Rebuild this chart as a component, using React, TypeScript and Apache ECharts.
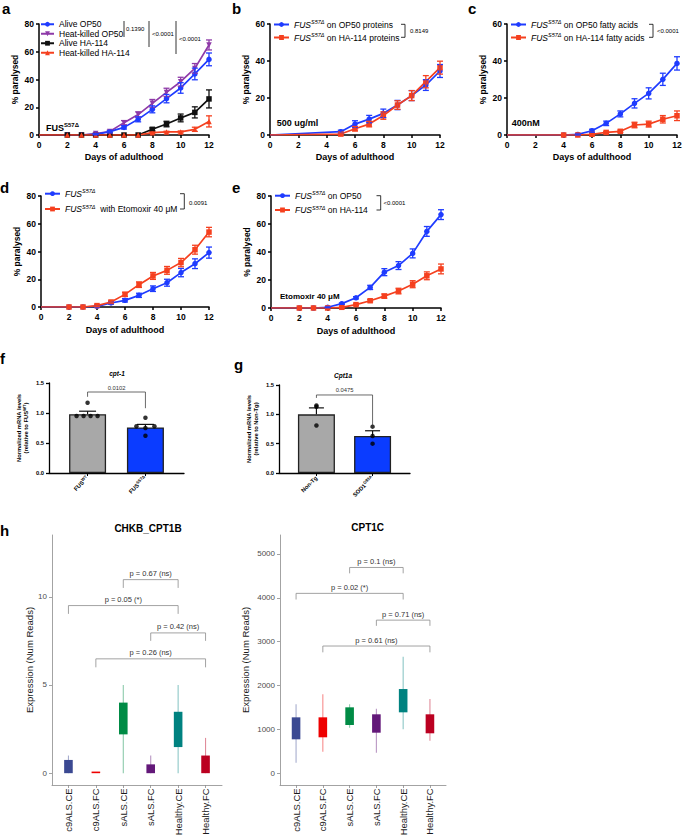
import React, { useEffect, useRef } from "react";
import * as echarts from "echarts";

const FONT = '"Liberation Sans", Arial, Helvetica, sans-serif';
const BLUE = "#1f3cff";
const RED = "#f5401f";
const PURPLE = "#8e3aa8";
const BLACK = "#111111";

// ---------- panel a ----------
const aDays = [0, 2, 3, 4, 5, 6, 7, 8, 9, 10, 11, 12];
const aAliveOP50 = [0, 0, 0, 0.5, 2.4, 5.5, 11.3, 18.5, 26.2, 33.9, 44, 54.5];
const aAliveOP50Err = [0, 0, 0, 0.4, 0.8, 1.2, 1.8, 2.5, 3, 3.8, 4.2, 4.6];
const aHeatOP50 = [0, 0, 0, 1, 2.5, 8.9, 14.7, 22.8, 30.7, 38.4, 48, 64.9];
const aHeatOP50Err = [0, 0, 0, 0.5, 1, 1.5, 2, 2.8, 3, 3.2, 3.5, 3.6];
const aAliveHA = [0, 0, 0, 0, 0, 0, 0, 4.1, 7.9, 12.3, 16.3, 26];
const aAliveHAErr = [0, 0, 0, 0, 0, 0, 0, 1, 2, 2.8, 4, 6.5];
const aHeatHA = [0, 0, 0, 0, 0, 0, 0, 1.7, 2.2, 2.2, 4.1, 9.8];
const aHeatHAErr = [0, 0, 0, 0, 0, 0, 0, 0.5, 0.5, 0.7, 1.5, 4];

// ---------- panel b ----------
const bDays = [0, 5, 6, 7, 8, 9, 10, 11, 12];
const bOP50 = [0, 1.8, 5.9, 8.6, 11.7, 16.2, 21.3, 27, 34.6];
const bOP50Err = [0, 0.8, 1.8, 2, 2.3, 2.5, 2.7, 2.9, 3.5];
const bHA = [0, 0.5, 3.4, 5.9, 10.5, 16.2, 21.3, 28.8, 36.4];
const bHAErr = [0, 0.5, 1.2, 1.5, 2, 2.3, 2.7, 3.3, 3.5];

// ---------- panel c ----------
const cDays = [0, 4, 5, 6, 7, 8, 9, 10, 11, 12];
const cOP50 = [0, 0, 0.3, 2.3, 6.3, 11.4, 17.1, 22.5, 30.1, 38.7];
const cOP50Err = [0, 0, 0.3, 0.8, 1.2, 1.6, 2.5, 3, 3.3, 3.6];
const cHA = [0, 0, 0, 0.4, 1.4, 2, 5.4, 5.9, 8.5, 10.4];
const cHAErr = [0, 0, 0, 0.3, 0.5, 0.6, 1.5, 1.6, 2, 2.6];

// ---------- panel d ----------
const dDays = [0, 2, 3, 4, 5, 6, 7, 8, 9, 10, 11, 12];
const dCtrl = [0, 0, 0, 0.5, 2.9, 4.8, 8.4, 13.2, 17.5, 24.8, 31.2, 39.2];
const dCtrlErr = [0, 0, 0, 0.5, 0.8, 1.2, 1.5, 2, 2.5, 3, 3.5, 4];
const dEto = [0, 0, 0, 1, 3.6, 9.1, 16.1, 22.4, 26.4, 32, 41.3, 54];
const dEtoErr = [0, 0, 0, 0.5, 0.8, 1.5, 2, 2.5, 2.8, 3, 3.2, 3.4];

// ---------- panel e ----------
const eDays = [0, 2, 3, 4, 5, 6, 7, 8, 9, 10, 11, 12];
const eOP50 = [0, 0, 0, 0.5, 3.1, 7.3, 14.7, 25.6, 30.3, 39, 54.7, 66.7];
const eOP50Err = [0, 0, 0, 0.3, 0.5, 0.8, 1.5, 2.5, 2.8, 3.2, 3.5, 3.5];
const eHA = [0, 0, 0, 0, 0.5, 2.4, 5.2, 8.5, 12.1, 17, 23, 27.9];
const eHAErr = [0, 0, 0, 0, 0.3, 0.5, 0.8, 1.5, 2, 2.5, 2.8, 3.5];

// ---------- panels f, g ----------
const fLabels = ["{b|FUS}{s|WT}", "{b|FUS}{s|S57Δ}"];
const fMeans = [0.98, 0.76];
const fSem = [0.05, 0.05];
const fPoints = [
  [1.17, 0.95, 0.95, 0.95, 0.95],
  [0.92, 0.78, 0.78, 0.75, 0.62],
];
const fP = ["0.0102"];

const gLabels = ["{b|Non-Tg}", "{b|SOD1}{s|G93A}"];
const gMeans = [1.0, 0.63];
const gSem = [0.11, 0.09];
const gPoints = [
  [1.15, 1.13, 0.81],
  [0.79, 0.63, 0.5],
];
const gP = ["0.0475"];

// ---------- panel h ----------
const hCats = ["c9ALS.CE", "c9ALS.FC", "sALS.CE", "sALS.FC", "Healthy.CE", "Healthy.FC"];
const hColors = ["#3B4992", "#EE0000", "#008B45", "#631879", "#008280", "#BB0021"];
// [whisker low, q1, q3, whisker high]
const chkbStats = [
  [0, 0, 0.75, 1.0],
  [0, 0, 0, 0],
  [0, 2.2, 4.0, 5.0],
  [0, 0, 0.5, 1.0],
  [0, 1.48, 3.48, 5.0],
  [0, 0, 1.0, 2.0],
];
const cpt1cStats = [
  [242, 774, 1275, 1571],
  [492, 820, 1275, 1800],
  [1039, 1100, 1503, 1571],
  [469, 925, 1344, 1472],
  [1002, 1389, 1920, 2656],
  [743, 911, 1344, 1692],
];
const chkbTicks = [0, 5, 10];
const cpt1cTicks = [0, 1000, 2000, 3000, 4000, 5000];
// [group from, group to, bracket level, left end, right end]
const chkbBrackets = [
  [3, 5, 10.97, 10.5, 10.5],
  [1, 5, 9.5, 9.03, 9.03],
  [4, 6, 7.95, 7.5, 7.5],
  [2, 6, 6.48, 6.0, 6.0],
];
const chkbP = ["p = 0.67 (ns)", "p = 0.05 (*)", "p = 0.42 (ns)", "p = 0.26 (ns)"];
const cpt1cBrackets = [
  [3, 5, 4690, 4556, 4556],
  [1, 5, 4100, 3960, 3960],
  [4, 6, 3490, 3360, 3360],
  [2, 6, 2900, 2756, 2756],
];
const cpt1cP = ["p = 0.1 (ns)", "p = 0.02 (*)", "p = 0.71 (ns)", "p = 0.61 (ns)"];

// ---------- layout (pixels) ----------
const grids = [
  { left: 39, top: 24, width: 170, height: 111 },
  { left: 270, top: 24, width: 170, height: 111 },
  { left: 507, top: 24, width: 170, height: 111 },
  { left: 41, top: 196, width: 168, height: 111 },
  { left: 271, top: 196, width: 170, height: 112 },
  { left: 49, top: 383, width: 135, height: 90 },
  { left: 279, top: 385, width: 131, height: 88 },
  { left: 52, top: 535, width: 170, height: 250 },
  { left: 280, top: 535, width: 166, height: 250 },
];
const barSlots = [2, 5];

type LineSpec = {
  name: string;
  grid: number;
  days: number[];
  values: number[];
  errors: number[];
  color: string;
  symbol: string;
  rotate?: number;
};

const lineSpecs: LineSpec[] = [
  { name: "Heat-killed OP50", grid: 0, days: aDays, values: aHeatOP50, errors: aHeatOP50Err, color: PURPLE, symbol: "triangle", rotate: 180 },
  { name: "Alive OP50", grid: 0, days: aDays, values: aAliveOP50, errors: aAliveOP50Err, color: BLUE, symbol: "circle" },
  { name: "Alive HA-114", grid: 0, days: aDays, values: aAliveHA, errors: aAliveHAErr, color: BLACK, symbol: "rect" },
  { name: "Heat-killed HA-114", grid: 0, days: aDays, values: aHeatHA, errors: aHeatHAErr, color: RED, symbol: "triangle" },
  { name: "b-OP50", grid: 1, days: bDays, values: bOP50, errors: bOP50Err, color: BLUE, symbol: "circle" },
  { name: "b-HA", grid: 1, days: bDays, values: bHA, errors: bHAErr, color: RED, symbol: "rect" },
  { name: "c-OP50", grid: 2, days: cDays, values: cOP50, errors: cOP50Err, color: BLUE, symbol: "circle" },
  { name: "c-HA", grid: 2, days: cDays, values: cHA, errors: cHAErr, color: RED, symbol: "rect" },
  { name: "d-ctrl", grid: 3, days: dDays, values: dCtrl, errors: dCtrlErr, color: BLUE, symbol: "circle" },
  { name: "d-eto", grid: 3, days: dDays, values: dEto, errors: dEtoErr, color: RED, symbol: "rect" },
  { name: "e-OP50", grid: 4, days: eDays, values: eOP50, errors: eOP50Err, color: BLUE, symbol: "circle" },
  { name: "e-HA", grid: 4, days: eDays, values: eHA, errors: eHAErr, color: RED, symbol: "rect" },
];

const legendText: Record<string, string> = {
  "b-OP50": "{i|FUS}{si|S57Δ} on OP50 proteins",
  "b-HA": "{i|FUS}{si|S57Δ} on HA-114 proteins",
  "c-OP50": "{i|FUS}{si|S57Δ} on OP50 fatty acids",
  "c-HA": "{i|FUS}{si|S57Δ} on HA-114 fatty acids",
  "d-ctrl": "{i|FUS}{si|S57Δ}",
  "d-eto": "{i|FUS}{si|S57Δ}  with Etomoxir 40 μM",
  "e-OP50": "{i|FUS}{si|S57Δ} on OP50",
  "e-HA": "{i|FUS}{si|S57Δ} on HA-114",
};

const legendRich = {
  i: { fontStyle: "italic", fontSize: 8.5, fontFamily: FONT, color: "#000", lineHeight: 11 },
  si: { fontStyle: "italic", fontSize: 5.5, fontFamily: FONT, color: "#000", lineHeight: 7, verticalAlign: "top" },
};

function txt(x: number, y: number, text: string, font: string, align = "left", vAlign = "middle", fill = "#000", rich?: any) {
  return {
    type: "text",
    x,
    y,
    silent: true,
    style: { text, font, fill, textFill: fill, textAlign: align, textVerticalAlign: vAlign, align, verticalAlign: vAlign, rich },
  };
}

function seg(x1: number, y1: number, x2: number, y2: number, w = 0.8, stroke = "#000") {
  return { type: "line", silent: true, shape: { x1, y1, x2, y2 }, style: { stroke, lineWidth: w } };
}

function bracketPx(points: number[][]) {
  return { type: "polyline", silent: true, shape: { points }, style: { stroke: "#000", lineWidth: 0.8, fill: "none" } };
}

function errorBarSeries(g: number, data: number[][], color: string, cap: number, upOnly = false, width = 1.3) {
  return {
    type: "custom",
    xAxisIndex: g,
    yAxisIndex: g,
    silent: true,
    z: 4,
    data,
    renderItem: (_p: any, api: any) => {
      const x = api.value(0);
      const y = api.value(1);
      const e = api.value(2);
      if (!e) return null;
      const t = api.coord([x, y + e]);
      const b = api.coord([x, upOnly ? y : Math.max(0, y - e)]);
      const st = { stroke: color, lineWidth: width };
      const ch: any[] = [
        { type: "line", shape: { x1: t[0], y1: t[1], x2: b[0], y2: b[1] }, style: st },
        { type: "line", shape: { x1: t[0] - cap, y1: t[1], x2: t[0] + cap, y2: t[1] }, style: st },
      ];
      if (!upOnly) ch.push({ type: "line", shape: { x1: b[0] - cap, y1: b[1], x2: b[0] + cap, y2: b[1] }, style: st });
      return { type: "group", children: ch };
    },
  };
}

function bracketSeries(g: number, data: number[][], labels: string[], stroke: string, lw: number, font: string, fill: string, gap: number) {
  return {
    type: "custom",
    xAxisIndex: g,
    yAxisIndex: g,
    silent: true,
    z: 5,
    data,
    renderItem: (params: any, api: any) => {
      const x1 = api.value(0);
      const x2 = api.value(1);
      const yt = api.value(2);
      const a = api.coord([x1, api.value(3)]);
      const b = api.coord([x1, yt]);
      const c = api.coord([x2, yt]);
      const d = api.coord([x2, api.value(4)]);
      return {
        type: "group",
        children: [
          { type: "polyline", shape: { points: [a, b, c, d] }, style: { stroke, lineWidth: lw, fill: "none" } },
          {
            type: "text",
            x: (b[0] + c[0]) / 2,
            y: b[1] - gap,
            style: {
              text: labels[params.dataIndex],
              font,
              fill,
              textFill: fill,
              textAlign: "center",
              textVerticalAlign: "bottom",
              align: "center",
              verticalAlign: "bottom",
            },
          },
        ],
      };
    },
  };
}

function boxSeries(g: number, stats: number[][]) {
  return {
    type: "custom",
    xAxisIndex: g,
    yAxisIndex: g,
    silent: true,
    data: stats.map((s, i) => [i + 1, ...s]),
    renderItem: (params: any, api: any) => {
      const i = params.dataIndex;
      const x = api.value(0);
      const lo = api.coord([x, api.value(1)]);
      const q1 = api.coord([x, api.value(2)]);
      const q3 = api.coord([x, api.value(3)]);
      const hi = api.coord([x, api.value(4)]);
      const col = hColors[i];
      const h = Math.max(q1[1] - q3[1], 1.6);
      return {
        type: "group",
        children: [
          { type: "line", shape: { x1: hi[0], y1: hi[1], x2: lo[0], y2: lo[1] }, style: { stroke: col, lineWidth: 1.1, opacity: 0.45 } },
          { type: "rect", shape: { x: q3[0] - 4.3, y: q1[1] - h, width: 8.6, height: h }, style: { fill: col } },
        ],
      };
    },
  };
}

function buildOption() {
  const xAxis: any[] = [];
  const yAxis: any[] = [];
  const series: any[] = [];
  const legend: any[] = [];

  const blackLine = { show: true, onZero: false, lineStyle: { color: "#000", width: 1.5 } };
  const blackTick = { show: true, length: 3, lineStyle: { color: "#000", width: 1.5 } };
  const boldLabel = { color: "#000", fontSize: 8.5, fontWeight: "bold", fontFamily: FONT };
  const lineYMax = [80, 60, 60, 80, 80];
  const xNameGap = [17, 17, 17, 18, 18];

  for (let g = 0; g < 5; g++) {
    xAxis.push({
      type: "value",
      gridIndex: g,
      min: 0,
      max: 12,
      interval: 2,
      axisLine: blackLine,
      axisTick: blackTick,
      axisLabel: { ...boldLabel, margin: 5 },
      splitLine: { show: false },
      name: "Days of adulthood",
      nameLocation: "middle",
      nameGap: xNameGap[g],
      nameTextStyle: { color: "#000", fontSize: 9, fontWeight: "bold", fontFamily: FONT },
    });
    yAxis.push({
      type: "value",
      gridIndex: g,
      min: 0,
      max: lineYMax[g],
      interval: 20,
      axisLine: blackLine,
      axisTick: blackTick,
      axisLabel: { ...boldLabel, margin: 5 },
      splitLine: { show: false },
      name: "% paralysed",
      nameLocation: "middle",
      nameGap: 20,
      nameTextStyle: { color: "#000", fontSize: 8.5, fontWeight: "bold", fontFamily: FONT },
    });
  }

  for (const s of lineSpecs) {
    series.push({
      type: "line",
      name: s.name,
      xAxisIndex: s.grid,
      yAxisIndex: s.grid,
      symbol: s.symbol,
      symbolRotate: s.rotate || 0,
      symbolSize: 5.5,
      showAllSymbol: true,
      silent: true,
      z: 3,
      lineStyle: { color: s.color, width: 1.7 },
      itemStyle: { color: s.color },
      data: s.days.map((d, i) => ({ value: [d, s.values[i]], symbolSize: d === 0 ? 0 : 5.5 })),
    });
    series.push(errorBarSeries(s.grid, s.days.map((d, i) => [d, s.values[i], s.errors[i]]), s.color, 3));
  }

  const legendPos = [
    { left: 40, top: 19.5, itemWidth: 13, gap: 0, lh: 9.5, names: ["Alive OP50", "Heat-killed OP50", "Alive HA-114", "Heat-killed HA-114"] },
    { left: 273, top: 19, itemWidth: 15, gap: 2, lh: 11, names: ["b-OP50", "b-HA"] },
    { left: 510, top: 19, itemWidth: 15, gap: 2, lh: 11, names: ["c-OP50", "c-HA"] },
    { left: 44, top: 188.2, itemWidth: 15, gap: 4.3, lh: 11, names: ["d-ctrl", "d-eto"] },
    { left: 274, top: 190.2, itemWidth: 15, gap: 3.3, lh: 11, names: ["e-OP50", "e-HA"] },
  ];
  for (const l of legendPos) {
    legend.push({
      left: l.left,
      top: l.top,
      orient: "vertical",
      padding: 0,
      itemGap: l.gap,
      itemWidth: l.itemWidth,
      itemHeight: 6,
      selectedMode: false,
      data: l.names,
      formatter: (n: string) => legendText[n] || n,
      textStyle: { fontSize: 8.5, color: "#000", fontFamily: FONT, lineHeight: l.lh, rich: legendRich },
    });
  }

  // ----- f and g -----
  const smallRich = {
    b: { fontSize: 5.8, fontWeight: "bold", fontFamily: FONT, color: "#000", lineHeight: 7.5 },
    s: { fontSize: 4.2, fontWeight: "bold", fontFamily: FONT, color: "#000", lineHeight: 5, verticalAlign: "top" },
  };
  const barPanels = [
    { g: 5, labels: fLabels, means: fMeans, sem: fSem, points: fPoints, jitter: [[0, -11, -4, 3, 10], [0, -9, 9, 0, 0]], cap: 8.5, bracket: [[2, 5, 1.35, 1.27, 1.08]], p: fP, yName: "{b|Normalized mRNA levels}\n{b|(relative to FUS}{s|WT}{b|)}", gap: 19 },
    { g: 6, labels: gLabels, means: gMeans, sem: gSem, points: gPoints, jitter: [[0, 0, 0], [0, 0, 0]], cap: 7.5, bracket: [[2, 5, 1.33, 1.28, 0.82]], p: gP, yName: "{b|Normalized mRNA levels}\n{b|(relative to Non-Tg)}", gap: 19 },
  ];
  const barColors = ["#a8a8a8", "#0b3cff"];
  for (const bp of barPanels) {
    xAxis.push({
      type: "value",
      gridIndex: bp.g,
      min: 0,
      max: 7,
      axisLine: { show: true, onZero: false, lineStyle: { color: "#000", width: 1.3 } },
      axisTick: { show: true, length: 3, customValues: barSlots, lineStyle: { color: "#000", width: 1 } },
      axisLabel: {
        customValues: barSlots,
        rotate: 45,
        margin: 4,
        formatter: (v: number) => bp.labels[barSlots.indexOf(Math.round(v))] || "",
        rich: smallRich,
      },
      splitLine: { show: false },
    });
    yAxis.push({
      type: "value",
      gridIndex: bp.g,
      min: 0,
      max: 1.5,
      interval: 0.5,
      axisLine: { show: true, onZero: false, lineStyle: { color: "#000", width: 1.3 } },
      axisTick: { show: true, length: 3, lineStyle: { color: "#000", width: 1.3 } },
      axisLabel: { color: "#000", fontSize: 5.8, fontWeight: "bold", fontFamily: FONT, margin: 5, formatter: (v: number) => v.toFixed(1) },
      splitLine: { show: false },
      name: bp.yName,
      nameLocation: "middle",
      nameGap: bp.gap,
      nameTextStyle: { rich: smallRich },
    });
    series.push({
      type: "bar",
      xAxisIndex: bp.g,
      yAxisIndex: bp.g,
      barWidth: 37,
      silent: true,
      data: barSlots.map((s, i) => ({ value: [s, bp.means[i]], itemStyle: { color: barColors[i], borderColor: "#222", borderWidth: 1.3 } })),
    });
    series.push(errorBarSeries(bp.g, barSlots.map((s, i) => [s, bp.means[i], bp.sem[i]]), "#111", bp.cap, true, 1.2));
    const pts: any[] = [];
    bp.points.forEach((arr, i) => arr.forEach((v, j) => pts.push({ value: [barSlots[i], v], symbolOffset: [bp.jitter[i][j], 0] })));
    series.push({ type: "scatter", xAxisIndex: bp.g, yAxisIndex: bp.g, symbolSize: 4.5, silent: true, z: 6, itemStyle: { color: "#000" }, data: pts });
    series.push(bracketSeries(bp.g, bp.bracket, bp.p, "#444", 0.8, `5.8px ${FONT}`, "#333", 1.5));
  }

  // ----- h -----
  const grayLine = { show: true, onZero: false, lineStyle: { color: "#8c8c8c", width: 0.8 } };
  const hPanels = [
    { g: 7, min: -0.67, max: 13.5, ticks: chkbTicks, stats: chkbStats, br: chkbBrackets, p: chkbP, gap: 17 },
    { g: 8, min: -267, max: 5430, ticks: cpt1cTicks, stats: cpt1cStats, br: cpt1cBrackets, p: cpt1cP, gap: 30 },
  ];
  const catPos = hCats.map((_, i) => i + 1);
  for (const hp of hPanels) {
    xAxis.push({
      type: "value",
      gridIndex: hp.g,
      min: 0.4,
      max: 6.6,
      axisLine: grayLine,
      axisTick: { show: true, length: 3, customValues: catPos, lineStyle: { color: "#8c8c8c", width: 0.8 } },
      axisLabel: {
        customValues: catPos,
        rotate: 90,
        margin: 3.5,
        color: "#1a1a1a",
        fontSize: 9.4,
        fontFamily: FONT,
        formatter: (v: number) => hCats[Math.round(v) - 1] || "",
      },
      splitLine: { show: false },
    });
    yAxis.push({
      type: "value",
      gridIndex: hp.g,
      min: hp.min,
      max: hp.max,
      axisLine: grayLine,
      axisTick: { show: true, length: 3, customValues: hp.ticks, lineStyle: { color: "#8c8c8c", width: 0.8 } },
      axisLabel: { customValues: hp.ticks, margin: 5, color: "#4d4d4d", fontSize: 8, fontFamily: FONT, formatter: (v: number) => String(Math.round(v)) },
      splitLine: { show: false },
      name: "Expression (Num Reads)",
      nameLocation: "middle",
      nameGap: hp.gap,
      nameTextStyle: { color: "#1a1a1a", fontSize: 9.5, fontFamily: FONT },
    });
    series.push(boxSeries(hp.g, hp.stats));
    series.push(bracketSeries(hp.g, hp.br, hp.p, "#8c8c8c", 0.8, `7.5px ${FONT}`, "#333333", 2));
  }

  const supRich = {
    b: { fontSize: 9, fontWeight: "bold", fontFamily: FONT, fill: "#000", color: "#000", lineHeight: 11 },
    s: { fontSize: 6, fontWeight: "bold", fontFamily: FONT, fill: "#000", color: "#000", lineHeight: 7, verticalAlign: "top" },
  };
  const L = `bold 15px ${FONT}`;
  const P = `6px ${FONT}`;
  const graphic: any[] = [
    txt(2, 8.5, "a", L),
    txt(232, 8.5, "b", L),
    txt(468, 8.5, "c", L),
    txt(0, 187, "d", L),
    txt(232, 187, "e", L),
    txt(0, 358, "f", L),
    txt(234, 364, "g", L),
    txt(0, 530, "h", L),
    // panel a significance
    seg(124, 21, 124, 37),
    txt(126, 29, "0.1390", P),
    seg(149, 21, 149, 47),
    txt(152, 34, "<0.0001", P),
    seg(176, 21, 176, 54),
    txt(179, 39.3, "<0.0001", P),
    // panel b-e brackets
    bracketPx([[401, 24.3], [405, 24.3], [405, 37.3], [401, 37.3]]),
    txt(410, 31, "0.8149", P),
    bracketPx([[649, 24.3], [653, 24.3], [653, 37.3], [649, 37.3]]),
    txt(657, 30.7, "<0.0001", P),
    bracketPx([[180, 193.7], [184.3, 193.7], [184.3, 209], [180, 209]]),
    txt(189, 202.7, "0.0091", P),
    bracketPx([[376.5, 195.7], [380.7, 195.7], [380.7, 210], [376.5, 210]]),
    txt(383.5, 202.7, "<0.0001", P),
    // in-plot labels
    txt(46, 127.5, "{b|FUS}{s|S57Δ}", `bold 9px ${FONT}`, "left", "middle", "#000", supRich),
    txt(276.7, 123.3, "500 ug/ml", `bold 9px ${FONT}`),
    txt(511.7, 123.3, "400nM", `bold 9px ${FONT}`),
    txt(280, 296, "Etomoxir 40 μM", `bold 8px ${FONT}`),
    // f/g titles
    txt(117, 373.5, "cpt-1", `italic bold 6.5px ${FONT}`, "center"),
    txt(343, 375.5, "Cpt1a", `italic bold 6.5px ${FONT}`, "center"),
    // h titles
    txt(148, 528, "CHKB_CPT1B", `bold 10px ${FONT}`, "center"),
    txt(367.7, 527.7, "CPT1C", `bold 10px ${FONT}`, "center"),
  ];

  return {
    animation: false,
    textStyle: { fontFamily: FONT },
    grid: grids.map((g) => ({ ...g, containLabel: false, outerBoundsMode: "none" })),
    xAxis,
    yAxis,
    legend,
    series,
    graphic,
  };
}

const App = () => {
  const ref = useRef<HTMLDivElement>(null);
  useEffect(() => {
    document.body.style.margin = "0";
    const chart = echarts.init(ref.current!, null, { renderer: "svg" });
    chart.setOption(buildOption() as any);
    return () => chart.dispose();
  }, []);
  return <div ref={ref} style={{ width: 683, height: 838, background: "#fff" }} />;
};

export default App;
